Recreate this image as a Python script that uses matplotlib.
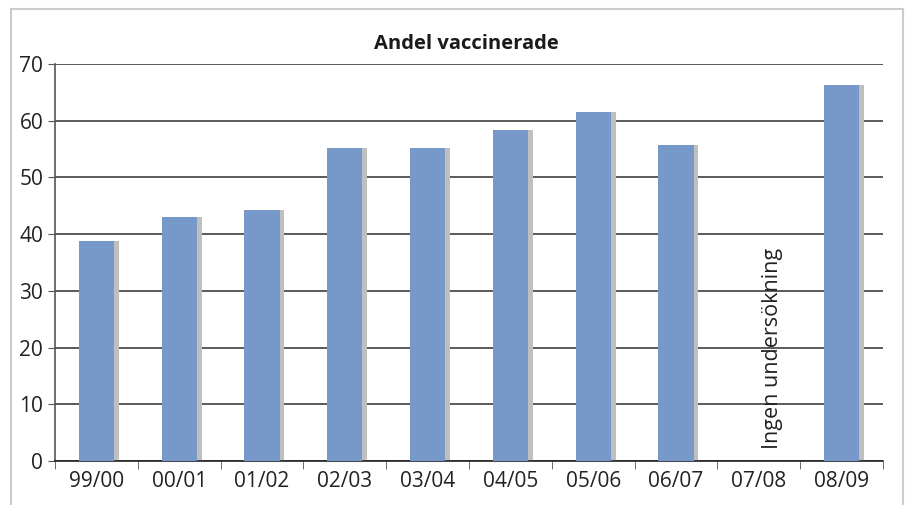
import numpy as np
import matplotlib.pyplot as plt
from matplotlib.lines import Line2D

plt.rcParams['font.family'] = ['Open Sans', 'DejaVu Sans']

seasons = ['99/00', '00/01', '01/02', '02/03', '03/04', '04/05', '05/06', '06/07', '07/08', '08/09']
andel = [38.8, 43.0, 44.3, 55.2, 55.2, 58.4, 61.6, 55.7, np.nan, 66.3]
note = 'Ingen undersökning'

x = np.arange(len(seasons))
vals = np.nan_to_num(np.array(andel, dtype=float))

fig = plt.figure(figsize=(9.09, 5.05), dpi=100)
ax = fig.add_axes([0.0605, 0.0871, 0.9109, 0.7862])

w = 0.423
ax.bar(x + 0.06, vals, width=w, color='#bfbfbf', zorder=2)
ax.bar(x, vals, width=w, color='#7799c9', zorder=3)

ax.set_ylim(0, 70)
ax.set_xlim(-0.5, len(seasons) - 0.5)
ax.set_yticks(range(0, 71, 10))
ax.yaxis.grid(True, color='#4d4d4d', linewidth=1.3, zorder=1)
ax.set_axisbelow(True)

ax.set_xticks(x)
ax.set_xticklabels(seasons)
ax.set_xticks(np.arange(-0.5, len(seasons), 1), minor=True)
ax.tick_params(axis='x', which='major', length=0, labelsize=15, pad=7, colors='#222222')
ax.tick_params(axis='x', which='minor', length=6, color='#555555')
ax.tick_params(axis='y', length=5, labelsize=15, colors='#222222', color='#555555')

for s in ['top', 'right']:
    ax.spines[s].set_visible(False)
ax.spines['left'].set_color('#555555')
ax.spines['bottom'].set_color('#222222')
ax.spines['left'].set_linewidth(1.2)
ax.spines['bottom'].set_linewidth(1.2)

ax.text(8.17, 2.2, note, rotation=90, ha='center', va='bottom', fontsize=15.5, color='#222222')
fig.text(0.513, 0.903, 'Andel vaccinerade', ha='center', va='baseline', fontsize=14.5,
         fontweight='bold', color='#1a1a1a')

# outer frame
fig.add_artist(Line2D([0.012, 0.012], [0, 0.982], color='#cccccc', lw=1.5, transform=fig.transFigure))
fig.add_artist(Line2D([0.012, 0.993], [0.982, 0.982], color='#cccccc', lw=1.5, transform=fig.transFigure))
fig.add_artist(Line2D([0.993, 0.993], [0, 0.982], color='#cccccc', lw=1.5, transform=fig.transFigure))

fig.savefig('out.png', dpi=100)
